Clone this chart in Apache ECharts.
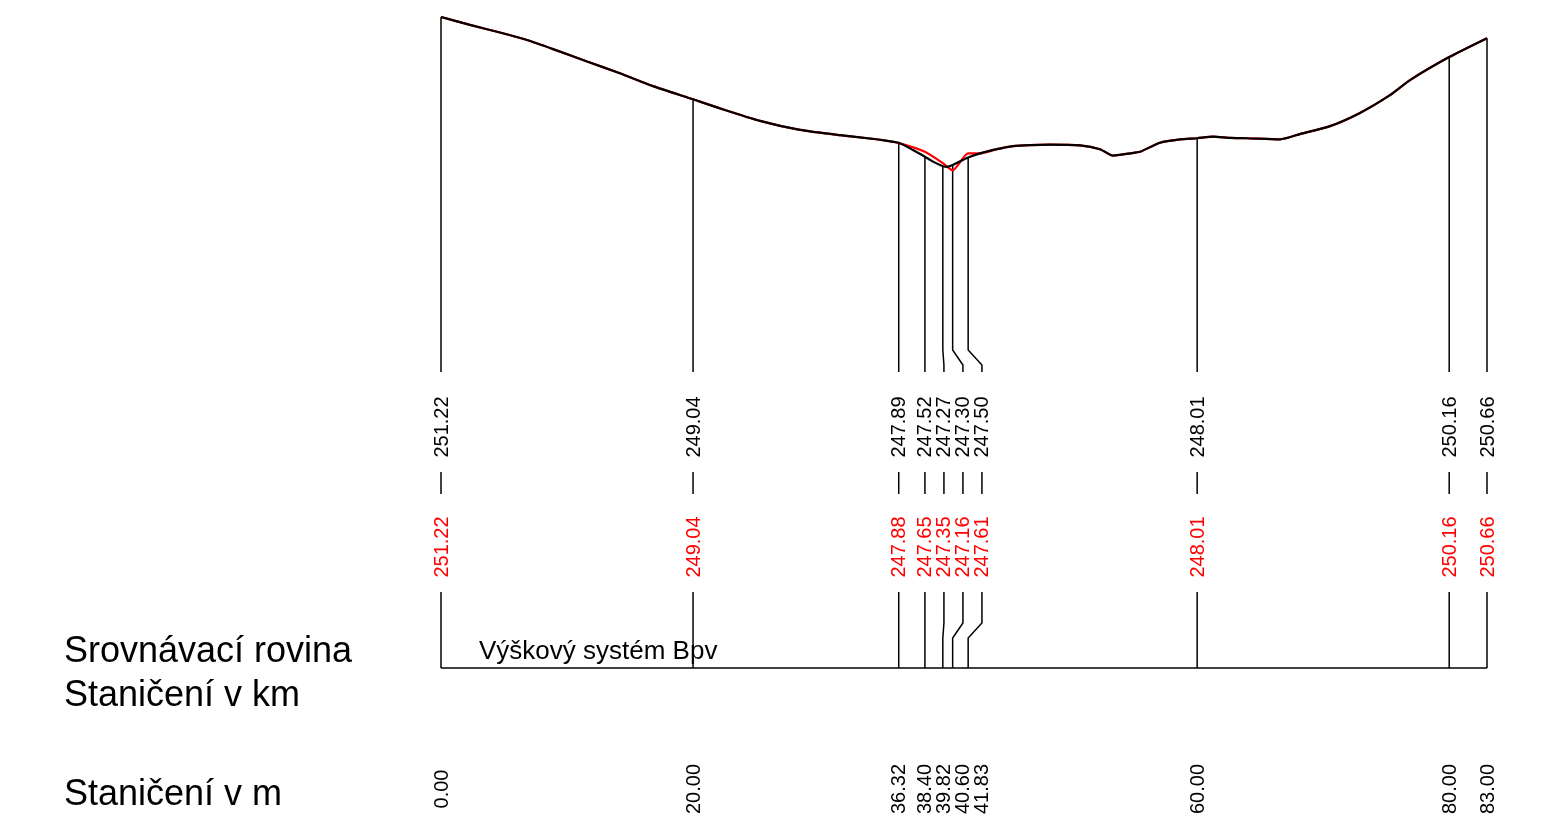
<!DOCTYPE html>
<html><head><meta charset="utf-8">
<script src="https://cdn.jsdelivr.net/npm/echarts@6/dist/echarts.min.js"></script>
<style>html,body{margin:0;padding:0;background:#fff}#c{width:1565px;height:818px}</style>
</head><body><div id="c"></div>
<script>
// ---- data ----
const stations = [0, 20, 36.32, 38.40, 39.82, 40.60, 41.83, 60, 80, 83];
const terrainAtStations = [251.22, 249.04, 247.89, 247.52, 247.27, 247.30, 247.50, 248.01, 250.16, 250.66];
const designAtStations = [251.22, 249.04, 247.88, 247.65, 247.35, 247.16, 247.61, 248.01, 250.16, 250.66];
const terrainProfile = [
  [0,251.22],[2.30,251.01],[4.68,250.81],[6.82,250.61],[8.89,250.37],[11.59,250.04],
  [14.20,249.73],[16.82,249.39],[20,249.04],[22.14,248.80],[25.31,248.47],[28.49,248.23],
  [31.66,248.09],[34.84,247.97],[36.32,247.89],[37.45,247.70],[38.40,247.52],[39.04,247.39],
  [39.82,247.27],[40.15,247.25],[40.60,247.30],[41.83,247.50],[42.77,247.61],[44.12,247.72],
  [45.39,247.80],[46.74,247.83],[48.33,247.84],[50.71,247.82],[52.29,247.72],[53.32,247.55],
  [54.67,247.61],[55.47,247.65],[57.05,247.89],[58.64,247.98],[60,248.01],[61.26,248.05],
  [62.61,248.02],[63.96,248.01],[66.58,247.98],[68.16,248.12],[70.54,248.33],[72.92,248.68],
  [75.30,249.15],[76.89,249.55],[80,250.16],[83,250.66]
];
const designFrom = 36.32, designTo = 41.83;
const rowTitles = ['Srovnávací rovina', 'Staničení v km', 'Staničení v m'];
const datumText = 'Výškový systém Bpv';

// derived: design profile = terrain outside the designed section + design values inside
const designProfile = terrainProfile.filter(p => p[0] < designFrom || p[0] > designTo)
  .concat(stations.map((s, i) => [s, designAtStations[i]]).filter(p => p[0] >= designFrom && p[0] <= designTo))
  .sort((a, b) => a[0] - b[0]);

const FONT = "'Liberation Sans', Arial, Helvetica, sans-serif";
const Y_MIN = 241.82, Y_MAX = 251.22;
const GAP = 19;

function labelXs(api, yRef) {
  const out = [];
  stations.forEach((s, i) => {
    const x = api.coord([s, yRef])[0];
    out.push(i === 0 ? x : Math.max(x, out[i - 1] + GAP));
  });
  return out;
}

const chart = echarts.init(document.getElementById('c'));
const option = {
  animation: false,
  backgroundColor: '#fff',
  grid: [
    {left: 441, width: 1046, top: 17, height: 355, outerBoundsMode: 'none'},
    {left: 441, width: 1046, top: 372, height: 446, outerBoundsMode: 'none'}
  ],
  xAxis: [
    {type: 'value', gridIndex: 0, min: 0, max: 83, show: false},
    {type: 'value', gridIndex: 1, min: 0, max: 83, show: false}
  ],
  yAxis: [
    {type: 'value', gridIndex: 0, min: Y_MIN, max: Y_MAX, show: false},
    {type: 'value', gridIndex: 1, min: 0, max: 446, inverse: true, show: false}
  ],
  series: [
    {
      type: 'line', xAxisIndex: 0, yAxisIndex: 0, data: designProfile, showSymbol: false,
      smooth: 0.2, lineStyle: {color: '#ff0000', width: 2.2}, z: 2, silent: true
    },
    {
      type: 'line', xAxisIndex: 0, yAxisIndex: 0, data: terrainProfile, showSymbol: false,
      smooth: 0.2, lineStyle: {color: '#000000', width: 2.2}, z: 3, silent: true
    },
    {
      // vertical lines from the profile down to the label band
      type: 'custom', xAxisIndex: 0, yAxisIndex: 0, clip: false, z: 1, silent: true,
      data: stations.map((s, i) => [s, terrainAtStations[i]]),
      encode: {x: 0, y: 1},
      renderItem: function (params, api) {
        const i = params.dataIndex;
        const top = api.coord([stations[i], terrainAtStations[i]]);
        const bot = api.coord([stations[i], Y_MIN]);
        const lx = labelXs(api, Y_MIN)[i];
        return {
          type: 'polyline',
          shape: {points: [[top[0], top[1]], [top[0], bot[1] - 22], [lx, bot[1] - 7], [lx, bot[1]]]},
          style: {stroke: '#000', lineWidth: 1.5, fill: null}
        };
      }
    },
    {
      // label bands
      type: 'custom', xAxisIndex: 1, yAxisIndex: 1, clip: false, z: 4, silent: true,
      data: stations.map(s => [s, 0]),
      encode: {x: 0, y: 1},
      renderItem: function (params, api) {
        const i = params.dataIndex;
        const x = api.coord([stations[i], 0])[0];
        const lx = labelXs(api, 0)[i];
        const Y = v => api.coord([stations[i], v])[1];
        const txt = (t, cx, cy, color) => ({
          type: 'text', x: cx, y: cy, rotation: Math.PI / 2,
          style: {text: t, x: 0, y: 0, align: 'center', verticalAlign: 'middle', fill: color,
                  font: '20px ' + FONT}
        });
        return {
          type: 'group',
          children: [
            txt(terrainAtStations[i].toFixed(2), lx + 1, Y(55), '#000'),
            {type: 'line', shape: {x1: lx, y1: Y(100), x2: lx, y2: Y(122)},
             style: {stroke: '#000', lineWidth: 1.5}},
            txt(designAtStations[i].toFixed(2), lx + 1, Y(175), '#ff0000'),
            {type: 'polyline',
             shape: {points: [[lx, Y(220)], [lx, Y(251)], [x, Y(266)], [x, Y(296)]]},
             style: {stroke: '#000', lineWidth: 1.5, fill: null}},
            txt(stations[i].toFixed(2), lx + 1, Y(417), '#000')
          ]
        };
      }
    },
    {
      // comparison plane baseline
      type: 'custom', xAxisIndex: 1, yAxisIndex: 1, clip: false, z: 4, silent: true,
      data: [[0, 296]],
      encode: {x: 0, y: 1},
      renderItem: function (params, api) {
        const a = api.coord([0, 296]);
        const b = api.coord([83, 296]);
        return {type: 'line', shape: {x1: a[0], y1: a[1], x2: b[0], y2: b[1]},
                style: {stroke: '#000', lineWidth: 1.5}};
      }
    }
  ],
  graphic: [
    {type: 'text', left: 64, top: 634, style: {text: rowTitles[0], font: '36px ' + FONT, fill: '#000'}},
    {type: 'text', left: 64, top: 678, style: {text: rowTitles[1], font: '36px ' + FONT, fill: '#000'}},
    {type: 'text', left: 64, top: 777, style: {text: rowTitles[2], font: '36px ' + FONT, fill: '#000'}},
    {type: 'text', left: 479, top: 639, style: {text: datumText, font: '26px ' + FONT, fill: '#000'}}
  ]
};
chart.setOption(option);
</script>
</body></html>
